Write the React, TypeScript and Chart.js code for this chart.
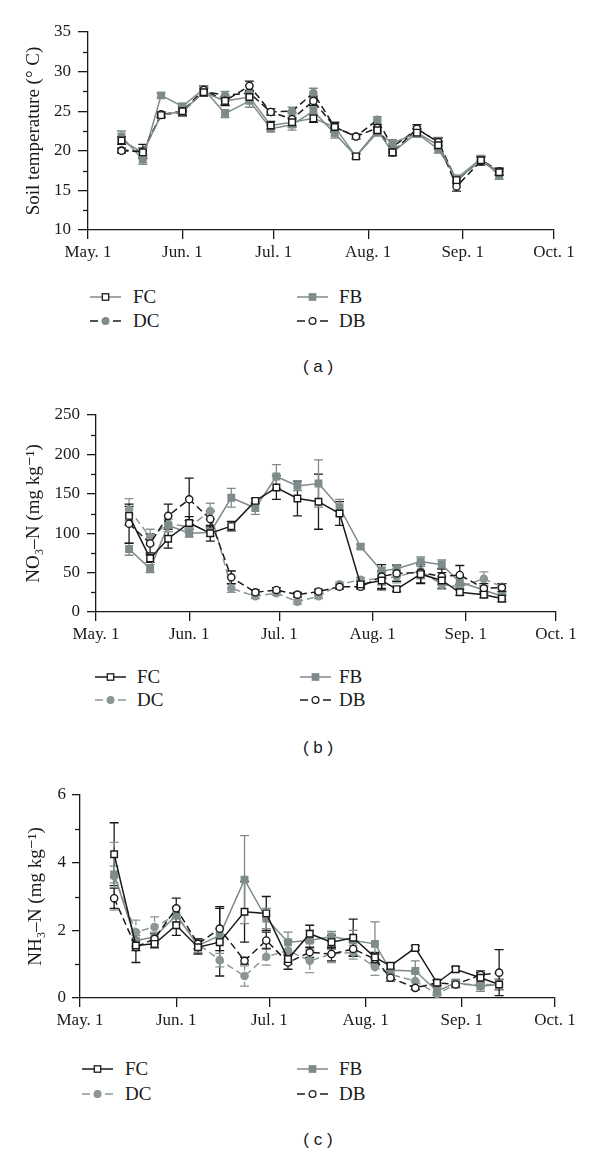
import React, { useEffect, useRef } from "react";
import { Chart, registerables } from "chart.js";
Chart.register(...registerables);

// ---------- shared data ----------
const sampleDays = [11, 18, 24, 31, 38, 45, 53, 60, 67, 74, 81, 88, 95, 100, 108, 115, 121, 129, 135];
const xTickDays = [0, 31, 61, 92, 123, 153];
const xTickLabels = ["May. 1", "Jun. 1", "Jul. 1", "Aug. 1", "Sep. 1", "Oct. 1"];
const seriesNames = ["FC", "FB", "DC", "DB"];

// ---------- (a) soil temperature ----------
const tempFC = [21.3, 19.8, 24.5, 25.0, 27.4, 26.3, 26.8, 23.2, 23.6, 24.1, 23.0, 19.3, 22.6, 19.8, 22.3, 20.7, 16.3, 18.8, 17.3];
const tempFB = [21.8, 18.9, 27.0, 25.6, 27.8, 24.7, 26.3, 22.8, 23.3, 25.0, 22.2, 19.3, 22.3, 21.0, 22.2, 20.2, 16.5, 19.0, 16.9];
const tempDC = [20.1, 19.9, 24.5, 24.9, 27.5, 27.0, 27.3, 24.9, 25.0, 27.3, 23.0, 21.8, 23.9, 20.5, 22.7, 21.2, 16.2, 18.9, 17.4];
const tempDB = [20.0, 19.9, 24.6, 25.0, 27.7, 26.3, 28.2, 24.9, 24.0, 26.3, 23.0, 21.8, 22.9, 19.8, 22.8, 21.1, 15.5, 18.7, 17.4];
const tempFCErr = [0.5, 0.6, 0.3, 0.5, 0.5, 0.5, 0.7, 0.5, 0.6, 0.5, 0.6, 0.3, 0.4, 0.4, 0.5, 0.5, 0.4, 0.4, 0.4];
const tempFBErr = [0.7, 0.6, 0.3, 0.4, 0.4, 0.5, 0.8, 0.4, 0.7, 0.5, 0.6, 0.3, 0.4, 0.4, 0.5, 0.5, 0.4, 0.4, 0.5];
const tempDCErr = [0.3, 0.5, 0.3, 0.5, 0.4, 0.5, 0.4, 0.4, 0.5, 0.6, 0.4, 0.3, 0.4, 0.4, 0.4, 0.5, 0.4, 0.4, 0.4];
const tempDBErr = [0.3, 0.9, 0.3, 0.6, 0.5, 0.6, 0.6, 0.4, 0.8, 0.6, 0.6, 0.3, 0.4, 0.4, 0.5, 0.5, 0.6, 0.5, 0.4];

// ---------- (b) NO3-N ----------
const no3FC = [122, 68, 93, 113, 100, 109, 141, 158, 144, 140, 125, 35, 40, 29, 48, 40, 25, 22, 17];
const no3FB = [80, 55, 110, 100, 101, 145, 132, 172, 160, 163, 133, 83, 52, 55, 64, 60, 38, 28, 20];
const no3DC = [130, 95, 112, 108, 128, 30, 20, 24, 13, 20, 35, 41, 42, 45, 52, 35, 32, 42, 32];
const no3DB = [112, 87, 122, 143, 118, 44, 25, 28, 22, 26, 32, 32, 45, 49, 50, 45, 47, 30, 31];
const no3FCErr = [12, 5, 12, 8, 10, 6, 3, 15, 22, 35, 15, 4, 12, 3, 12, 10, 4, 4, 4];
const no3FBErr = [8, 5, 8, 5, 5, 12, 8, 15, 6, 30, 10, 3, 5, 5, 6, 6, 6, 5, 4];
const no3DCErr = [14, 10, 10, 8, 10, 5, 3, 3, 3, 3, 3, 3, 8, 8, 10, 6, 5, 9, 4];
const no3DBErr = [25, 12, 15, 27, 10, 8, 3, 3, 3, 3, 3, 3, 15, 10, 13, 10, 12, 6, 5];

// ---------- (c) NH3-N ----------
const nh3FC = [4.25, 1.55, 1.6, 2.15, 1.5, 1.65, 2.55, 2.5, 1.15, 1.9, 1.65, 1.78, 1.2, 0.95, 1.48, 0.45, 0.85, 0.6, 0.4];
const nh3FB = [3.65, 1.7, 1.8, 2.45, 1.55, 1.85, 3.5, 2.35, 1.65, 1.7, 1.82, 1.7, 1.6, 0.82, 0.8, 0.2, 0.45, 0.35, 0.4];
const nh3DC = [3.6, 1.95, 2.1, 2.45, 1.6, 1.12, 0.65, 1.22, 1.4, 1.1, 1.3, 1.35, 0.92, 0.7, 0.5, 0.12, 0.4, 0.4, 0.4];
const nh3DB = [2.95, 1.5, 1.75, 2.65, 1.6, 2.05, 1.1, 1.7, 1.05, 1.35, 1.3, 1.45, 1.15, 0.6, 0.3, 0.45, 0.4, 0.68, 0.75];
const nh3FCErr = [0.93, 0.15, 0.12, 0.3, 0.2, 1.0, 0.9, 0.5, 0.15, 0.25, 0.2, 0.55, 0.15, 0.1, 0.06, 0.08, 0.08, 0.15, 0.15];
const nh3FBErr = [0.25, 0.15, 0.15, 0.2, 0.2, 0.2, 1.3, 0.3, 0.3, 0.3, 0.15, 0.3, 0.65, 0.15, 0.3, 0.1, 0.1, 0.15, 0.15];
const nh3DCErr = [1.0, 0.35, 0.3, 0.25, 0.15, 0.2, 0.3, 0.25, 0.3, 0.35, 0.25, 0.2, 0.25, 0.1, 0.25, 0.05, 0.1, 0.1, 0.15];
const nh3DBErr = [0.3, 0.45, 0.15, 0.3, 0.15, 0.65, 0.1, 0.25, 0.2, 0.15, 0.2, 0.2, 0.15, 0.1, 0.05, 0.08, 0.08, 0.12, 0.68];

// ---------- styles ----------
const BLACK = "#1a1a1a";
const GRAY = "#7f8b8b";
const LGRAY = "#8c9696";
const SERIF = "'Liberation Serif', 'DejaVu Serif', 'Times New Roman', serif";
const SANS = "'Liberation Sans', Arial, sans-serif";

type SeriesStyle = {
  line: string; dash: number[]; marker: "rect" | "circle"; fill: string; stroke: string; err: string; errDash?: number[];
};

const stylesA: SeriesStyle[] = [
  { line: GRAY, dash: [], marker: "rect", fill: "#fff", stroke: BLACK, err: BLACK },
  { line: GRAY, dash: [], marker: "rect", fill: GRAY, stroke: GRAY, err: GRAY },
  { line: BLACK, dash: [7, 4], marker: "circle", fill: GRAY, stroke: GRAY, err: GRAY },
  { line: BLACK, dash: [7, 4], marker: "circle", fill: "#fff", stroke: BLACK, err: BLACK },
];
const stylesB: SeriesStyle[] = [
  { line: BLACK, dash: [], marker: "rect", fill: "#fff", stroke: BLACK, err: BLACK },
  { line: GRAY, dash: [], marker: "rect", fill: GRAY, stroke: GRAY, err: GRAY },
  { line: LGRAY, dash: [7, 4], marker: "circle", fill: LGRAY, stroke: LGRAY, err: LGRAY },
  { line: BLACK, dash: [7, 4], marker: "circle", fill: "#fff", stroke: BLACK, err: BLACK },
];
const stylesC: SeriesStyle[] = [
  stylesB[0], stylesB[1],
  { ...stylesB[2], errDash: [5, 3] },
  stylesB[3],
];

// ---------- plugins ----------
const errorBarPlugin = {
  id: "errorBars",
  beforeDatasetsDraw(chart: any) {
    const ctx = chart.ctx;
    const ys = chart.scales.y;
    chart.data.datasets.forEach((ds: any, di: number) => {
      const errs: number[] = ds.errorBars;
      if (!errs) return;
      const meta = chart.getDatasetMeta(di);
      ctx.save();
      ctx.strokeStyle = ds.errorColor;
      ctx.lineWidth = 1.3;
      meta.data.forEach((pt: any, i: number) => {
        const v = ds.data[i].y;
        const e = errs[i];
        const yt = ys.getPixelForValue(v + e);
        const yb = ys.getPixelForValue(v - e);
        ctx.setLineDash(ds.errorDash || []);
        ctx.beginPath();
        ctx.moveTo(pt.x, yt);
        ctx.lineTo(pt.x, yb);
        ctx.stroke();
        ctx.setLineDash([]);
        ctx.beginPath();
        ctx.moveTo(pt.x - 4.5, yt);
        ctx.lineTo(pt.x + 4.5, yt);
        ctx.moveTo(pt.x - 4.5, yb);
        ctx.lineTo(pt.x + 4.5, yb);
        ctx.stroke();
      });
      ctx.restore();
    });
  },
};

const minorTickPlugin = {
  id: "minorTicks",
  afterDraw(chart: any, _args: any, opts: any) {
    if (!opts || !opts.values) return;
    const ctx = chart.ctx;
    const ys = chart.scales.y;
    const left = chart.chartArea.left;
    ctx.save();
    ctx.strokeStyle = BLACK;
    ctx.lineWidth = 1.3;
    opts.values.forEach((v: number) => {
      const y = Math.round(ys.getPixelForValue(v)) + 0.5;
      ctx.beginPath();
      ctx.moveTo(left - opts.length, y);
      ctx.lineTo(left, y);
      ctx.stroke();
    });
    ctx.restore();
  },
};

// ---------- panel definition ----------
type PanelDef = {
  top: number; height: number; padTop: number; padBottom: number; padLeft: number; yWidth: number; padRight: number;
  yMin: number; yMax: number; yStep: number; minor: number[]; yTitle: string; yTickLen: number; yTickPad: number;
  values: number[][]; errors: number[][]; styles: SeriesStyle[];
  legendRows: [number, number]; legendIconL: number; legendTextL: number; legendIconR: number; legendTextR: number;
  caption: string; captionY: number;
};

const panels: PanelDef[] = [
  {
    top: 0, height: 280, padTop: 32, padBottom: 10, padLeft: 20, yWidth: 68, padRight: 46,
    yMin: 10, yMax: 35, yStep: 5, minor: [12.5, 17.5, 22.5, 27.5, 32.5], yTitle: "Soil temperature (° C)",
    yTickLen: 10, yTickPad: 7,
    values: [tempFC, tempFB, tempDC, tempDB], errors: [tempFCErr, tempFBErr, tempDCErr, tempDBErr], styles: stylesA,
    legendRows: [297, 321], legendIconL: 90, legendTextL: 133, legendIconR: 297, legendTextR: 339,
    caption: "( a )", captionY: 367,
  },
  {
    top: 385, height: 280, padTop: 30, padBottom: 13, padLeft: 20, yWidth: 76, padRight: 44,
    yMin: 0, yMax: 250, yStep: 50, minor: [25, 75, 125, 175, 225], yTitle: "NO₃–N (mg kg⁻¹)",
    yTickLen: 9, yTickPad: 7,
    values: [no3FC, no3FB, no3DC, no3DB], errors: [no3FCErr, no3FBErr, no3DCErr, no3DBErr], styles: stylesB,
    legendRows: [677, 700], legendIconL: 95, legendTextL: 137, legendIconR: 300, legendTextR: 339,
    caption: "( b )", captionY: 748,
  },
  {
    top: 765, height: 285, padTop: 30, padBottom: 12, padLeft: 22, yWidth: 58, padRight: 45,
    yMin: 0, yMax: 6, yStep: 2, minor: [1, 3, 5], yTitle: "NH₃–N (mg kg⁻¹)",
    yTickLen: 8, yTickPad: 6,
    values: [nh3FC, nh3FB, nh3DC, nh3DB], errors: [nh3FCErr, nh3FBErr, nh3DCErr, nh3DBErr], styles: stylesC,
    legendRows: [1069, 1094], legendIconL: 82, legendTextL: 125, legendIconR: 297, legendTextR: 339,
    caption: "( c )", captionY: 1140,
  },
];

const drawOrder = [0, 2, 3, 1]; // FC on top, then DB, FB, DC

function PanelChart({ def }: { def: PanelDef }) {
  const ref = useRef<HTMLCanvasElement | null>(null);
  useEffect(() => {
    if (!ref.current) return;
    const datasets = seriesNames.map((name, si) => {
      const st = def.styles[si];
      return {
        label: name,
        data: sampleDays.map((d, i) => ({ x: d, y: def.values[si][i] })),
        errorBars: def.errors[si],
        errorColor: st.err,
        errorDash: st.errDash,
        borderColor: st.line,
        borderWidth: 1.5,
        borderDash: st.dash,
        pointStyle: st.marker,
        pointRadius: st.marker === "rect" ? 4.6 : 3.6,
        pointBackgroundColor: st.fill,
        pointBorderColor: st.stroke,
        pointBorderWidth: 1.4,
        tension: 0,
        fill: false,
        order: drawOrder[si],
      } as any;
    });
    const chart = new Chart(ref.current, {
      type: "line",
      data: { datasets },
      plugins: [errorBarPlugin, minorTickPlugin],
      options: {
        animation: false,
        responsive: false,
        maintainAspectRatio: false,
        layout: { padding: { top: def.padTop, bottom: def.padBottom, left: def.padLeft, right: def.padRight } },
        plugins: {
          legend: { display: false },
          tooltip: { enabled: false },
          minorTicks: { values: def.minor, length: 5 },
        } as any,
        scales: {
          x: {
            type: "linear",
            min: 0,
            max: 153,
            afterBuildTicks: (s: any) => {
              s.ticks = xTickDays.map((v) => ({ value: v }));
            },
            afterFit: (s: any) => {
              s.height = 40;
            },
            ticks: {
              autoSkip: false,
              maxRotation: 0,
              padding: 3,
              color: BLACK,
              font: { family: SERIF, size: 17 },
              callback: (v: any) => {
                const idx = xTickDays.indexOf(Number(v));
                return idx >= 0 ? xTickLabels[idx] : "";
              },
            },
            grid: { drawOnChartArea: false, drawTicks: true, tickLength: 9, color: BLACK, lineWidth: 1.3 },
            border: { color: BLACK, width: 1.3 },
          },
          y: {
            min: def.yMin,
            max: def.yMax,
            afterFit: (s: any) => {
              s.width = def.yWidth;
            },
            ticks: {
              stepSize: def.yStep,
              padding: def.yTickPad,
              color: BLACK,
              font: { family: SERIF, size: 17 },
            },
            grid: { drawOnChartArea: false, drawTicks: true, tickLength: def.yTickLen, color: BLACK, lineWidth: 1.3 },
            border: { color: BLACK, width: 1.3 },
            title: {
              display: true,
              text: def.yTitle,
              color: BLACK,
              font: { family: SERIF, size: 19 },
              padding: { top: 3, bottom: 0 },
            },
          },
        },
      } as any,
    });
    return () => chart.destroy();
  }, [def]);
  return (
    <canvas
      ref={ref}
      width={600}
      height={def.height}
      style={{ position: "absolute", left: 0, top: def.top, width: 600, height: def.height }}
    />
  );
}

function LegendIcon({ st }: { st: SeriesStyle }) {
  const w = 31;
  const c = w / 2;
  const dashed = st.dash.length > 0;
  return (
    <svg width={w} height={12} style={{ display: "block" }}>
      {dashed ? (
        <>
          <line x1={0} y1={6} x2={8} y2={6} stroke={st.line} strokeWidth={1.5} />
          <line x1={23} y1={6} x2={31} y2={6} stroke={st.line} strokeWidth={1.5} />
        </>
      ) : (
        <line x1={0} y1={6} x2={w} y2={6} stroke={st.line} strokeWidth={1.5} />
      )}
      {st.marker === "rect" ? (
        <rect x={c - 3.2} y={2.8} width={6.4} height={6.4} fill={st.fill} stroke={st.stroke} strokeWidth={1.3} />
      ) : (
        <circle cx={c} cy={6} r={3.4} fill={st.fill} stroke={st.stroke} strokeWidth={1.3} />
      )}
    </svg>
  );
}

function PanelLegend({ def }: { def: PanelDef }) {
  // layout: FC (left, row 1), FB (right, row 1), DC (left, row 2), DB (right, row 2)
  const items = seriesNames.map((name, si) => {
    const col = si % 2;
    const row = si < 2 ? 0 : 1;
    const iconL = col === 0 ? def.legendIconL : def.legendIconR;
    const textL = col === 0 ? def.legendTextL : def.legendTextR;
    const cy = def.legendRows[row];
    return (
      <div key={name}>
        <div style={{ position: "absolute", left: iconL, top: cy - 6 }}>
          <LegendIcon st={def.styles[si]} />
        </div>
        <div
          style={{
            position: "absolute",
            left: textL,
            top: cy - 12,
            height: 24,
            lineHeight: "24px",
            fontFamily: SERIF,
            fontSize: 19,
            color: BLACK,
            whiteSpace: "nowrap",
          }}
        >
          {name}
        </div>
      </div>
    );
  });
  return <>{items}</>;
}

export default function App() {
  return (
    <div style={{ position: "absolute", left: 0, top: 0, width: 600, height: 1157, background: "#fff", overflow: "hidden" }}>
      {panels.map((def, i) => (
        <React.Fragment key={i}>
          <PanelChart def={def} />
          <PanelLegend def={def} />
          <div
            style={{
              position: "absolute",
              left: 268,
              width: 100,
              top: def.captionY - 12,
              height: 24,
              lineHeight: "24px",
              textAlign: "center",
              fontFamily: SANS,
              fontSize: 17,
              color: BLACK,
              whiteSpace: "pre",
            }}
          >
            {def.caption}
          </div>
        </React.Fragment>
      ))}
    </div>
  );
}
